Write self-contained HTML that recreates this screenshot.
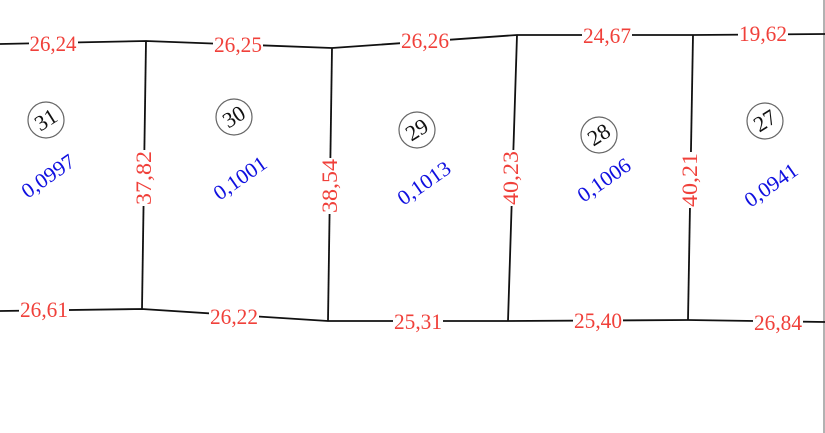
<!DOCTYPE html>
<html><head><meta charset="utf-8"><style>
html,body{margin:0;padding:0;background:#fff;}
svg{display:block;}
text{font-family:"Liberation Serif",serif;}
.r{fill:#f0403a;font-size:22px;}
.b{fill:#1010e0;font-size:21px;}
.k{fill:#111;font-size:22px;}
</style></head><body>
<svg width="825" height="433" viewBox="0 0 825 433" xmlns="http://www.w3.org/2000/svg">
<rect width="825" height="433" fill="#fff"/>
<line x1="824" y1="0" x2="824" y2="433" stroke="#999" stroke-width="1.5"/>
<g stroke="#111" stroke-width="1.8" fill="none">
<polyline points="0,44 146,41 332,48 517,35 693,35 825,34"/>
<polyline points="0,311 142,309 328,321 508,321 688,320 825,322"/>
<line x1="146" y1="41" x2="142" y2="309"/>
<line x1="332" y1="48" x2="328" y2="321"/>
<line x1="517" y1="35" x2="508" y2="321"/>
<line x1="693" y1="35" x2="688" y2="320"/>
</g>
<g fill="#fff">
<rect x="29" y="34" width="49" height="20"/>
<rect x="213" y="35" width="50" height="20"/>
<rect x="400" y="31" width="50" height="20"/>
<rect x="582" y="26" width="50" height="20"/>
<rect x="738" y="24" width="50" height="20"/>
<rect x="19" y="300" width="50" height="20"/>
<rect x="209" y="307" width="50" height="20"/>
<rect x="393" y="312" width="50" height="20"/>
<rect x="573" y="311" width="50" height="20"/>
<rect x="753" y="313" width="50" height="20"/>
<rect x="134" y="150" width="20" height="56"/>
<rect x="320" y="158" width="20" height="56"/>
<rect x="501" y="150" width="20" height="56"/>
<rect x="680" y="152" width="20" height="56"/>
</g>
<g class="r" text-anchor="middle">
<text x="53" y="51" textLength="47" lengthAdjust="spacingAndGlyphs">26,24</text>
<text x="238" y="52" textLength="48" lengthAdjust="spacingAndGlyphs">26,25</text>
<text x="425" y="48" textLength="48" lengthAdjust="spacingAndGlyphs">26,26</text>
<text x="607" y="43" textLength="48" lengthAdjust="spacingAndGlyphs">24,67</text>
<text x="763" y="41" textLength="48" lengthAdjust="spacingAndGlyphs">19,62</text>
<text x="44" y="317" textLength="48" lengthAdjust="spacingAndGlyphs">26,61</text>
<text x="234" y="324" textLength="48" lengthAdjust="spacingAndGlyphs">26,22</text>
<text x="418" y="329" textLength="48" lengthAdjust="spacingAndGlyphs">25,31</text>
<text x="598" y="328" textLength="48" lengthAdjust="spacingAndGlyphs">25,40</text>
<text x="778" y="330" textLength="48" lengthAdjust="spacingAndGlyphs">26,84</text>
<text transform="translate(151,178) rotate(-90)" textLength="54" lengthAdjust="spacingAndGlyphs">37,82</text>
<text transform="translate(337,186) rotate(-90)" textLength="54" lengthAdjust="spacingAndGlyphs">38,54</text>
<text transform="translate(518,178) rotate(-90)" textLength="54" lengthAdjust="spacingAndGlyphs">40,23</text>
<text transform="translate(697,180) rotate(-90)" textLength="54" lengthAdjust="spacingAndGlyphs">40,21</text>
</g>
<g fill="none" stroke="#666" stroke-width="1.2">
<circle cx="46" cy="120" r="18"/>
<circle cx="234" cy="117" r="18"/>
<circle cx="417" cy="130" r="18"/>
<circle cx="599" cy="135" r="18"/>
<circle cx="765" cy="121" r="18"/>
</g>
<g class="k" text-anchor="middle">
<text transform="translate(46,120) rotate(-32)" y="7">31</text>
<text transform="translate(234,117) rotate(-32)" y="7">30</text>
<text transform="translate(417,130) rotate(-32)" y="7">29</text>
<text transform="translate(599,135) rotate(-32)" y="7">28</text>
<text transform="translate(765,121) rotate(-32)" y="7">27</text>
</g>
<g class="b" text-anchor="middle">
<text transform="translate(48,176) rotate(-35)" y="7" textLength="60" lengthAdjust="spacingAndGlyphs">0,0997</text>
<text transform="translate(240,178) rotate(-35)" y="7" textLength="60" lengthAdjust="spacingAndGlyphs">0,1001</text>
<text transform="translate(424,183) rotate(-35)" y="7" textLength="60" lengthAdjust="spacingAndGlyphs">0,1013</text>
<text transform="translate(604,180) rotate(-35)" y="7" textLength="60" lengthAdjust="spacingAndGlyphs">0,1006</text>
<text transform="translate(771,185) rotate(-35)" y="7" textLength="60" lengthAdjust="spacingAndGlyphs">0,0941</text>
</g>
</svg>
</body></html>
